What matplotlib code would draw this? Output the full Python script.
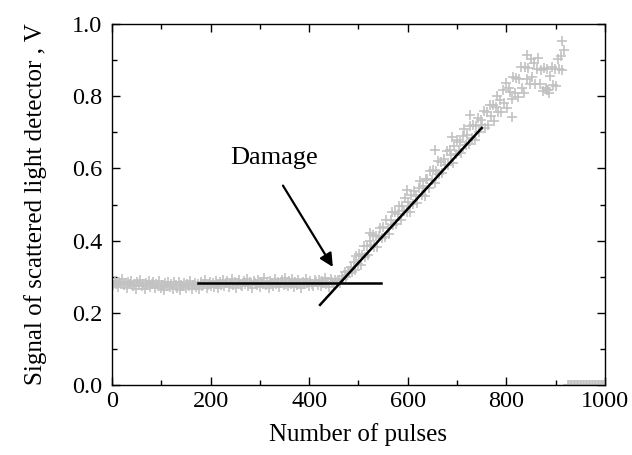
import numpy as np
import matplotlib
matplotlib.use("Agg")
import matplotlib.pyplot as plt
from matplotlib.ticker import MultipleLocator

# Signal, one point every 3 pulses
step = 3
flat_start = 0
flat_signal = [
    0.284, 0.276, 0.289, 0.280, 0.272, 0.286, 0.281, 0.293, 0.277, 0.283,
    0.270, 0.285, 0.279, 0.288, 0.274, 0.281, 0.267, 0.284, 0.278, 0.290,
    0.273, 0.280, 0.266, 0.283, 0.276, 0.287, 0.271, 0.279, 0.284, 0.268,
    0.281, 0.275, 0.288, 0.270, 0.278, 0.264, 0.283, 0.274, 0.286, 0.272,
    0.279, 0.267, 0.284, 0.276, 0.270, 0.285, 0.263, 0.278, 0.273, 0.282,
    0.268, 0.280, 0.274, 0.287, 0.266, 0.277, 0.283, 0.271, 0.279, 0.265,
    0.284, 0.273, 0.280, 0.290, 0.270, 0.278, 0.286, 0.275, 0.283, 0.272,
    0.289, 0.279, 0.269, 0.285, 0.277, 0.292, 0.274, 0.282, 0.288, 0.271,
    0.280, 0.294, 0.276, 0.285, 0.268, 0.283, 0.290, 0.278, 0.273, 0.287,
    0.281, 0.295, 0.274, 0.286, 0.279, 0.270, 0.289, 0.283, 0.276, 0.292,
    0.272, 0.285, 0.280, 0.296, 0.277, 0.284, 0.269, 0.288, 0.282, 0.275,
    0.293, 0.279, 0.286, 0.271, 0.283, 0.290, 0.276, 0.297, 0.281, 0.274,
    0.287, 0.280, 0.294, 0.272, 0.284, 0.278, 0.291, 0.283, 0.269, 0.286,
    0.279, 0.295, 0.282, 0.275, 0.289, 0.281, 0.273, 0.292, 0.285, 0.278,
    0.290, 0.274, 0.287, 0.282, 0.296, 0.279, 0.285, 0.271, 0.293, 0.284,
    0.280, 0.291, 0.286,
]
rise_start = 460
rise_signal = [
    0.291, 0.282, 0.301, 0.293, 0.312, 0.298, 0.315, 0.309, 0.327, 0.314,
    0.340, 0.318, 0.357, 0.334, 0.362, 0.333, 0.360, 0.386, 0.354, 0.384,
    0.360, 0.398, 0.387, 0.415, 0.381, 0.412, 0.383, 0.414, 0.435, 0.408,
    0.438, 0.410, 0.456, 0.436, 0.419, 0.457, 0.479, 0.444, 0.479, 0.446,
    0.475, 0.496, 0.457, 0.496, 0.481, 0.518, 0.479, 0.508, 0.480, 0.525,
    0.501, 0.537, 0.523, 0.503, 0.546, 0.564, 0.525, 0.550, 0.523, 0.571,
    0.570, 0.545, 0.593, 0.569, 0.597, 0.559, 0.594, 0.620, 0.585, 0.617,
    0.586, 0.625, 0.610, 0.647, 0.610, 0.651, 0.637, 0.616, 0.663, 0.641,
    0.678, 0.649, 0.673, 0.643, 0.690, 0.710, 0.666, 0.692, 0.669, 0.718,
    0.685, 0.721, 0.679, 0.718, 0.740, 0.701, 0.735, 0.721, 0.760, 0.712,
    0.755, 0.720, 0.776, 0.744, 0.777, 0.730, 0.770, 0.801, 0.755, 0.789,
    0.756, 0.816, 0.782, 0.837, 0.766, 0.822, 0.812, 0.792, 0.853, 0.810,
    0.851, 0.799, 0.847, 0.882, 0.823, 0.809, 0.880, 0.847, 0.879, 0.833,
    0.904, 0.853, 0.892, 0.835, 0.875, 0.906, 0.835, 0.874, 0.814, 0.878,
    0.824, 0.876, 0.808, 0.857, 0.882, 0.832, 0.876, 0.828, 0.902, 0.876,
    0.911, 0.874, 0.928,
]
# stray crosses standing out of the band
stray_x = [523, 598, 655, 690, 726, 811, 842, 882, 884, 913]
stray_y = [0.420, 0.540, 0.651, 0.687, 0.748, 0.742, 0.914, 0.817, 0.817, 0.953]
# detector reads zero after the sample broke
zero_start = 925
zero_signal = [0.0] * 26

# linear fits drawn on the figure
base_x = [174, 546]
base_y = [0.2825, 0.2825]
slope_x = [422, 750]
slope_y = [0.222, 0.712]

x = np.concatenate([flat_start + step * np.arange(len(flat_signal)),
                    rise_start + step * np.arange(len(rise_signal)),
                    stray_x,
                    zero_start + step * np.arange(len(zero_signal))])
y = np.concatenate([flat_signal, rise_signal, stray_y, zero_signal])

plt.rcParams["font.family"] = ["Liberation Serif", "DejaVu Serif"]
plt.rcParams["font.size"] = 17.5

fig = plt.figure(figsize=(6.32, 4.55), dpi=100)
ax = fig.add_axes([0.1772, 0.1538, 0.7800, 0.7934])

ax.plot(x, y, ls="none", marker="+", ms=7.5, mew=1.2, color="#c2c2c2")
ax.plot(base_x, base_y, color="k", lw=1.8)
ax.plot(slope_x, slope_y, color="k", lw=1.8)

ax.annotate("Damage", xy=(448, 0.327), xytext=(240, 0.612),
            ha="left", va="baseline", fontsize=19,
            arrowprops=dict(arrowstyle="-|>", color="k", lw=1.6,
                            mutation_scale=20, shrinkA=0, shrinkB=0,
                            relpos=(0.60, -0.75)))

ax.set_xlim(0, 1000)
ax.set_ylim(0, 1.0)
ax.xaxis.set_major_locator(MultipleLocator(200))
ax.xaxis.set_minor_locator(MultipleLocator(100))
ax.yaxis.set_major_locator(MultipleLocator(0.2))
ax.yaxis.set_minor_locator(MultipleLocator(0.1))
ax.yaxis.set_major_formatter(lambda v, p: f"{v:.1f}")
ax.tick_params(which="both", direction="in", top=True, right=True, width=1.0)
ax.tick_params(which="major", length=6)
ax.tick_params(which="minor", length=3.5)
ax.tick_params(axis="x", pad=4)
ax.tick_params(axis="y", pad=7)
for s in ax.spines.values():
    s.set_linewidth(1.0)

ax.set_xlabel("Number of pulses", fontsize=18, labelpad=8)
ax.set_ylabel("Signal of scattered light detector , V", fontsize=18, labelpad=18)

fig.savefig("out.png", dpi=100)
